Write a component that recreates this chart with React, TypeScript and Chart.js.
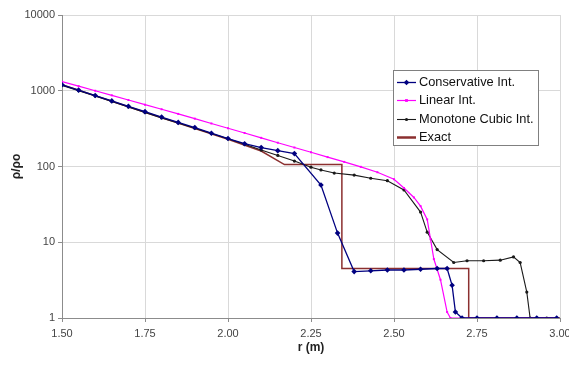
import React, { useEffect, useRef } from "react";
import { Chart, registerables } from "chart.js";

Chart.register(...registerables);

// ---- data ----
const xTickValues = [1.5, 1.75, 2.0, 2.25, 2.5, 2.75, 3.0];
const yTickValues = [1, 10, 100, 1000, 10000];

const seriesLabels = ["Conservative Int.", "Linear Int.", "Monotone Cubic Int.", "Exact"];

const consR = [1.5, 1.55, 1.6, 1.65, 1.7, 1.75, 1.8, 1.85, 1.9, 1.95, 2.0, 2.05, 2.1, 2.15, 2.2, 2.28, 2.33, 2.38, 2.43, 2.48, 2.53, 2.58, 2.63, 2.66, 2.675, 2.685, 2.705, 2.75, 2.81, 2.87, 2.93, 2.99];
const consV = [1200, 1020, 865, 735, 624, 530, 450, 382, 327, 275, 234, 200, 178, 162, 148, 57, 13.2, 4.1, 4.2, 4.3, 4.3, 4.4, 4.5, 4.5, 2.7, 1.2, 1.0, 1, 1, 1, 1, 1];

const linR = [1.5, 1.55, 1.6, 1.65, 1.7, 1.75, 1.8, 1.85, 1.9, 1.95, 2.0, 2.05, 2.1, 2.15, 2.2, 2.25, 2.3, 2.35, 2.4, 2.45, 2.5, 2.53, 2.56, 2.58, 2.6, 2.61, 2.62, 2.64, 2.66, 2.67, 2.75, 2.81, 2.87, 2.93, 2.99];
const linV = [1320, 1150, 1000, 870, 755, 655, 570, 495, 428, 370, 320, 277, 239, 206, 178, 154, 133, 115, 99, 84, 68, 52, 39, 30, 20, 11, 6, 3.2, 1.2, 1, 1, 1, 1, 1, 1];

const monoR = [1.5, 1.55, 1.6, 1.65, 1.7, 1.75, 1.8, 1.85, 1.9, 1.95, 2.0, 2.05, 2.1, 2.15, 2.2, 2.25, 2.28, 2.32, 2.38, 2.43, 2.48, 2.53, 2.58, 2.6, 2.63, 2.68, 2.72, 2.77, 2.82, 2.86, 2.88, 2.9, 2.91, 2.93, 2.96, 2.99];
const monoV = [1180, 1000, 850, 720, 610, 515, 437, 375, 320, 272, 232, 197, 165, 140, 118, 98, 90, 82, 77, 70, 65, 49, 25, 13.6, 8, 5.4, 5.7, 5.7, 5.8, 6.4, 5.4, 2.2, 1, 1, 1, 1];

const exactR = [1.5, 1.75, 2.0, 2.1, 2.17, 2.343, 2.343, 2.725, 2.725, 3.0];
const exactV = [1200, 520, 228, 160, 106, 106, 4.5, 4.5, 1, 1];

const toPts = (xs: number[], ys: number[]) => xs.map((x, i) => ({ x, y: ys[i] }));

const FONT = '"Liberation Sans", Arial, sans-serif';

const boxLegend = {
  id: "boxLegend",
  afterDraw(chart: any) {
    const ctx = chart.ctx as CanvasRenderingContext2D;
    const area = chart.chartArea;
    const x0 = area.right - 167;
    const y0 = area.top + 55;
    const w = 145;
    const h = 75;
    ctx.save();
    ctx.fillStyle = "#ffffff";
    ctx.fillRect(x0, y0, w, h);
    ctx.strokeStyle = "#808080";
    ctx.lineWidth = 1;
    ctx.strokeRect(x0 + 0.5, y0 + 0.5, w, h);
    chart.data.datasets.forEach((ds: any, i: number) => {
      const y = Math.round(y0 + 12 + i * 18.3) + 0.5;
      ctx.strokeStyle = ds.borderColor;
      ctx.lineWidth = i === 3 ? 2.5 : ds.borderWidth;
      ctx.beginPath();
      ctx.moveTo(x0 + 4, y);
      ctx.lineTo(x0 + 23, y);
      ctx.stroke();
      const cx = x0 + 13.5;
      ctx.fillStyle = ds.pointBackgroundColor || ds.borderColor;
      const r = ds.pointRadius || 0;
      if (r > 0) {
        ctx.beginPath();
        if (ds.pointStyle === "rectRot") {
          ctx.moveTo(cx, y - r);
          ctx.lineTo(cx + r, y);
          ctx.lineTo(cx, y + r);
          ctx.lineTo(cx - r, y);
          ctx.closePath();
        } else if (ds.pointStyle === "rect") {
          ctx.rect(cx - r, y - r, 2 * r, 2 * r);
        } else {
          ctx.arc(cx, y, r, 0, Math.PI * 2);
        }
        ctx.fill();
      }
      ctx.fillStyle = "#111111";
      ctx.font = `12.8px ${FONT}`;
      ctx.textBaseline = "middle";
      ctx.textAlign = "left";
      ctx.fillText(ds.label, x0 + 26, y);
    });
    ctx.restore();
  },
};

export default function App() {
  const ref = useRef<HTMLCanvasElement | null>(null);

  useEffect(() => {
    if (!ref.current) return;
    const chart = new Chart(ref.current, {
      type: "line",
      data: {
        datasets: [
          {
            label: seriesLabels[0],
            data: toPts(consR, consV),
            borderColor: "#000080",
            backgroundColor: "#000080",
            pointBackgroundColor: "#000080",
            borderWidth: 1.3,
            pointStyle: "rectRot",
            pointRadius: 2.8,
            pointBorderWidth: 0,
            tension: 0,
          },
          {
            label: seriesLabels[1],
            data: toPts(linR, linV),
            borderColor: "#ff00ff",
            backgroundColor: "#ff00ff",
            pointBackgroundColor: "#ff00ff",
            borderWidth: 1.2,
            pointStyle: "rect",
            pointRadius: 1.4,
            pointBorderWidth: 0,
            tension: 0,
          },
          {
            label: seriesLabels[2],
            data: toPts(monoR, monoV),
            borderColor: "#1a1a1a",
            backgroundColor: "#1a1a1a",
            pointBackgroundColor: "#1a1a1a",
            borderWidth: 1.1,
            pointStyle: "circle",
            pointRadius: 1.6,
            pointBorderWidth: 0,
            tension: 0,
          },
          {
            label: seriesLabels[3],
            data: toPts(exactR, exactV),
            borderColor: "#8b2f2f",
            backgroundColor: "#8b2f2f",
            borderWidth: 1.5,
            pointRadius: 0,
            tension: 0,
          },
        ],
      },
      options: {
        responsive: false,
        animation: false,
        devicePixelRatio: 1,
        layout: { padding: { top: 15, right: 9, left: 0, bottom: 0 } },
        plugins: { legend: { display: false }, tooltip: { enabled: false } },
        scales: {
          x: {
            type: "linear",
            min: 1.5,
            max: 3.0,
            afterBuildTicks: (s: any) => {
              s.ticks = xTickValues.map((v) => ({ value: v }));
            },
            afterFit: (s: any) => {
              s.height = 47;
              s.paddingLeft = 0;
              s.paddingRight = 0;
            },
            ticks: {
              callback: (v: any) => Number(v).toFixed(2),
              color: "#444444",
              font: { family: FONT, size: 11 },
              padding: 5,
              maxRotation: 0,
              autoSkip: false,
            },
            grid: { color: "#d9d9d9", lineWidth: 1, tickLength: 4, tickColor: "#8c8c8c" },
            border: { color: "#8c8c8c", width: 1 },
            title: {
              display: true,
              text: "r (m)",
              color: "#222222",
              font: { family: FONT, size: 12, weight: "bold" },
              padding: { top: 0, bottom: 10 },
            },
          },
          y: {
            type: "logarithmic",
            min: 1,
            max: 10000,
            afterBuildTicks: (s: any) => {
              s.ticks = yTickValues.map((v) => ({ value: v }));
            },
            afterFit: (s: any) => {
              s.width = 62;
              s.paddingTop = 0;
              s.paddingBottom = 0;
            },
            ticks: {
              callback: (v: any) => String(Number(v)),
              color: "#444444",
              font: { family: FONT, size: 11 },
              padding: 3,
              autoSkip: false,
            },
            grid: { color: "#d9d9d9", lineWidth: 1, tickLength: 4, tickColor: "#8c8c8c" },
            border: { color: "#8c8c8c", width: 1 },
            title: {
              display: true,
              text: "ρ/ρo",
              color: "#222222",
              font: { family: FONT, size: 12, weight: "bold" },
              padding: { top: 9, bottom: 0 },
            },
          },
        },
      },
      plugins: [boxLegend],
    } as any);
    return () => chart.destroy();
  }, []);

  return (
    <div style={{ position: "fixed", left: 0, top: 0, width: 569, height: 365, background: "#ffffff" }}>
      <canvas ref={ref} width={569} height={365} style={{ display: "block" }} />
    </div>
  );
}
